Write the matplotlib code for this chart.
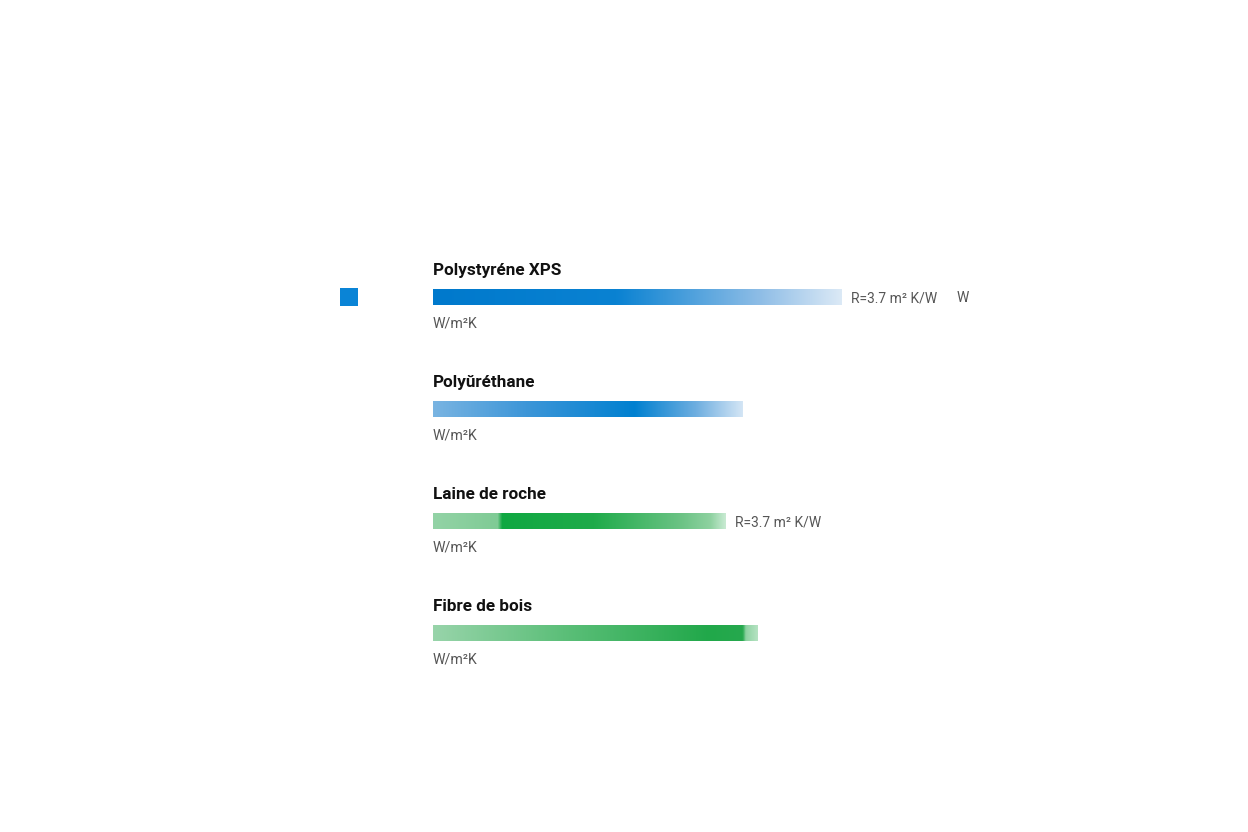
import matplotlib

matplotlib.use("Agg")

import matplotlib.pyplot as plt
import numpy as np
from matplotlib.colors import LinearSegmentedColormap
from matplotlib.patches import Rectangle

plt.rcParams["font.family"] = ["Roboto", "DejaVu Sans"]

MATERIALS = ["Polystyréne XPS", "Polyŭréthane", "Laine de roche", "Fibre de bois"]
BAR_LENGTH = [3.7, 2.81, 2.65, 2.94]
UNITS = ["W/m²K", "W/m²K", "W/m²K", "W/m²K"]
R_LABELS = ["R=3.7 m² K/W", "", "R=3.7 m² K/W", ""]

# gradient stops (position along the bar, colour) per material
GRADIENTS = [
    [(0.0, "#0079cc"), (0.45, "#0a82d2"), (0.8, "#8ebde6"), (1.0, "#dbe9f6")],
    [(0.0, "#79b4e2"), (0.3, "#3d96d8"), (0.65, "#0080d0"), (0.85, "#6eaee0"), (1.0, "#d3e5f5")],
    [(0.0, "#93d3a6"), (0.22, "#7fcb95"), (0.235, "#10a842"), (0.55, "#1fab4a"), (0.85, "#6cc385"), (0.95, "#8fd2a1"), (1.0, "#c8ead2")],
    [(0.0, "#98d4aa"), (0.4, "#5cbf79"), (0.85, "#21a84a"), (0.955, "#26a94e"), (0.965, "#8fd3a3"), (1.0, "#b4e2c1")],
]

fig = plt.figure(figsize=(12.48, 8.32), dpi=100)
fig.patch.set_facecolor("white")

# axes: x=0 at left edge of bars, rows spaced 112 px
ax = fig.add_axes([433 / 1248, 0, 551.4 / 1248, 1])

bar_h = 16 / 112
grad = np.linspace(0, 1, 512).reshape(1, -1)
for i, (name, length, unit, rlab, stops) in enumerate(zip(MATERIALS, BAR_LENGTH, UNITS, R_LABELS, GRADIENTS)):
    cmap = LinearSegmentedColormap.from_list(f"g{i}", stops)
    ax.imshow(grad, cmap=cmap, aspect="auto", interpolation="bilinear",
              extent=(0, length, i + bar_h / 2, i - bar_h / 2), zorder=2)
    ax.text(0, i - 0.235, name, fontsize=12.3, fontweight="bold", color="#111111",
            ha="left", va="center")
    ax.text(0, i + 0.235, unit, fontsize=10.2, color="#555555", ha="left", va="center")
    if rlab:
        ax.text(length + 0.09, i + 0.01, rlab, fontsize=10, color="#555555",
                ha="left", va="center")
    if i == 0:
        ax.text(length + 1.05, i + 0.01, "W", fontsize=10, color="#555555",
                ha="left", va="center")

ax.set_xlim(0, 5.0)
ax.set_ylim((832 - 297) / 112, -297 / 112)
ax.axis("off")

# small blue legend square on the left
fig.patches.append(Rectangle((340 / 1248, (832 - 306) / 832), 18 / 1248, 18 / 832,
                             transform=fig.transFigure, facecolor="#0a84d6",
                             edgecolor="none"))

fig.savefig("out.png", dpi=100, facecolor="white")
